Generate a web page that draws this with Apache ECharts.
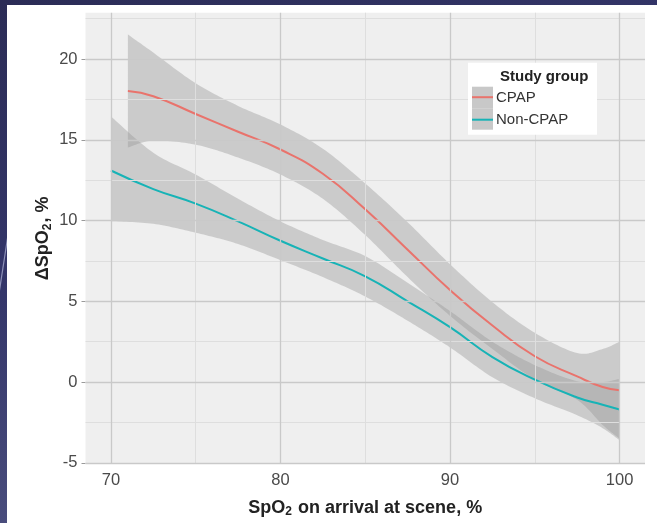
<!DOCTYPE html>
<html>
<head>
<meta charset="utf-8">
<script src="https://cdn.jsdelivr.net/npm/echarts@6/dist/echarts.min.js"></script>
<style>
  html, body { margin: 0; padding: 0; background: #2c2e58; }
  #chart { width: 657px; height: 523px; }
</style>
</head>
<body>
<div id="chart"></div>
<script>
// Axis ticks and grid positions
const xTicks = [70, 80, 90, 100];
const xMinor = [75, 85, 95];
const yTicks = [-5, 0, 5, 10, 15, 20];
const yMinor = [-2.5, 2.5, 7.5, 12.5, 17.5, 22.5];

// CPAP group: loess fit with 95% confidence band
const cpapX     = [71, 72.5, 75, 77.5, 80, 82.5, 85, 87.5, 90, 92.5, 95, 97.5, 99, 100];
const cpapFit   = [18.02, 17.7, 16.6, 15.5, 14.4, 12.9, 10.7, 8.2, 5.7, 3.5, 1.6, 0.35, -0.3, -0.5];
const cpapUpper = [21.52, 20.4, 18.5, 17.1, 15.95, 14.45, 12.3, 9.9, 7.3, 4.95, 3.05, 1.8, 2.05, 2.5];
const cpapLower = [14.52, 14.95, 14.7, 13.9, 12.85, 11.35, 9.1, 6.5, 4.1, 2.05, 0.15, -1.1, -2.65, -3.5];

// Non-CPAP group
const nonX     = [70, 72.5, 75, 77.5, 80, 82.5, 85, 87.5, 90, 92.5, 95, 97.5, 99, 100];
const nonFit   = [13.1, 11.95, 11.05, 9.95, 8.75, 7.65, 6.55, 5.0, 3.4, 1.55, 0.15, -0.95, -1.4, -1.7];
const nonUpper = [16.45, 14.2, 12.85, 11.35, 9.95, 8.8, 7.8, 6.15, 4.4, 2.5, 1.05, 0.05, 0.0, 0.2];
const nonLower = [9.97, 9.8, 9.25, 8.55, 7.55, 6.5, 5.3, 3.8, 2.15, 0.3, -1.0, -2.05, -2.85, -3.6];

const groups = ['CPAP', 'Non-CPAP'];
const lineColors = ['#e9736c', '#17b3b6'];

const pairs = (xs, ys) => xs.map((x, i) => [x, ys[i]]);

const bandFill = 'rgba(150,150,150,0.40)';
const font = '"Liberation Sans", Arial, sans-serif';

// Catmull-Rom spline through pixel points, so band edges are drawn as smooth curves
function spline(pts, steps) {
  const out = [];
  const n = pts.length;
  for (let i = 0; i < n - 1; i++) {
    const p0 = pts[Math.max(i - 1, 0)], p1 = pts[i], p2 = pts[i + 1], p3 = pts[Math.min(i + 2, n - 1)];
    for (let s = 0; s < steps; s++) {
      const t = s / steps, t2 = t * t, t3 = t2 * t;
      const f = k => 0.5 * (2 * p1[k] + (-p0[k] + p2[k]) * t +
        (2 * p0[k] - 5 * p1[k] + 4 * p2[k] - p3[k]) * t2 +
        (-p0[k] + 3 * p1[k] - 3 * p2[k] + p3[k]) * t3);
      out.push([f(0), f(1)]);
    }
  }
  out.push(pts[n - 1]);
  return out;
}

// Confidence ribbon as a custom polygon in axis coordinates
function bandSeries(name, xs, lo, hi) {
  return {
    type: 'custom', name: name, z: 2, silent: true,
    data: xs.map((x, i) => [x, lo[i], hi[i]]),
    encode: { x: 0, y: [1, 2] },
    renderItem(params, api) {
      if (params.dataIndex !== 0) return null;
      const up = xs.map((x, i) => api.coord([x, hi[i]]));
      const dn = xs.map((x, i) => api.coord([x, lo[i]]));
      const pts = spline(up, 16).concat(spline(dn, 16).reverse());
      return { type: 'polygon', shape: { points: pts }, style: { fill: bandFill } };
    }
  };
}

const gridLines = [].concat(
  xMinor.map(v => ({ xAxis: v, lineStyle: { color: '#dedede', width: 1, type: 'solid' } })),
  yMinor.map(v => ({ yAxis: v, lineStyle: { color: '#dedede', width: 1, type: 'solid' } })),
  xTicks.map(v => ({ xAxis: v, lineStyle: { color: '#c9c9c9', width: 1.3, type: 'solid' } })),
  yTicks.map(v => ({ yAxis: v, lineStyle: { color: '#c9c9c9', width: 1.3, type: 'solid' } }))
);

const titleRich = {
  a: { fontSize: 18, fontWeight: 'bold', color: '#222', fontFamily: font, lineHeight: 22 },
  s: { fontSize: 12, fontWeight: 'bold', color: '#222', fontFamily: font, lineHeight: 22, padding: [8, 1, 0, 0] }
};

const chart = echarts.init(document.getElementById('chart'));

const option = {
  animation: false,
  backgroundColor: new echarts.graphic.LinearGradient(0, 0, 0.3, 1, [
    { offset: 0, color: '#2b2c56' },
    { offset: 0.5, color: '#34366a' },
    { offset: 1, color: '#505482' }
  ]),
  textStyle: { fontFamily: font },
  grid: {
    left: 85.5, right: 12, top: 12.7, bottom: 57,
    show: true, backgroundColor: '#efefef', borderWidth: 0
  },
  xAxis: {
    type: 'value', min: 68.5, max: 101.5,
    axisLine: { show: false },
    splitLine: { show: false },
    axisTick: { show: true, customValues: xTicks, length: 4, lineStyle: { color: '#9a9a9a' } },
    axisLabel: { customValues: xTicks, margin: 8, fontSize: 16.5, color: '#4a4a4a', fontFamily: font },
    name: '{a|SpO}{s|2}{a| on arrival at scene, %}',
    nameLocation: 'middle', nameGap: 33,
    nameTextStyle: { rich: titleRich }
  },
  yAxis: {
    type: 'value', min: -5.07, max: 22.87,
    axisLine: { show: false },
    splitLine: { show: false },
    axisTick: { show: true, customValues: yTicks, length: 4, lineStyle: { color: '#9a9a9a' } },
    axisLabel: { customValues: yTicks, margin: 8, fontSize: 16.5, color: '#4a4a4a', fontFamily: font },
    name: '{a|ΔSpO}{s|2}{a|, %}',
    nameLocation: 'middle', nameGap: 31, nameRotate: 90, nameMoveOverlap: false,
    nameTextStyle: { rich: titleRich }
  },
  series: [
    {
      type: 'line', name: 'grid', data: [], z: 1, silent: true,
      markLine: {
        silent: true, symbol: 'none', label: { show: false },
        animation: false, data: gridLines
      }
    },
    bandSeries('cpap-band', cpapX, cpapLower, cpapUpper),
    bandSeries('non-band', nonX, nonLower, nonUpper),
    {
      type: 'line', name: groups[0], data: pairs(cpapX, cpapFit), smooth: true,
      symbol: 'none', z: 4, lineStyle: { color: lineColors[0], width: 2 }
    },
    {
      type: 'line', name: groups[1], data: pairs(nonX, nonFit), smooth: true,
      symbol: 'none', z: 4, lineStyle: { color: lineColors[1], width: 2 }
    }
  ],
  graphic: [
    // white slide panel behind the plot
    { type: 'rect', z: -10, silent: true, shape: { x: 7, y: 5, width: 660, height: 530 }, style: { fill: '#ffffff' } },
    { type: 'line', z: -11, silent: true, shape: { x1: -2, y1: 300, x2: 10, y2: 222 }, style: { stroke: '#8e91b8', lineWidth: 1.2 } },
    // legend
    {
      type: 'group', left: 468, top: 62.7, z: 10,
      children: [
        { type: 'rect', z: 10, shape: { x: 0, y: 0, width: 129, height: 72 }, style: { fill: '#ffffff' } },
        { type: 'text', z: 11, x: 32, y: 14, style: { text: 'Study group', font: 'bold 15px ' + font, fill: '#222', verticalAlign: 'middle' } },
        { type: 'rect', z: 11, shape: { x: 4, y: 24, width: 21, height: 21.5 }, style: { fill: '#c8c8c8' } },
        { type: 'rect', z: 11, shape: { x: 4, y: 45.5, width: 21, height: 21.5 }, style: { fill: '#c8c8c8' } },
        { type: 'line', z: 12, shape: { x1: 4, y1: 34.5, x2: 25, y2: 34.5 }, style: { stroke: lineColors[0], lineWidth: 2 } },
        { type: 'line', z: 12, shape: { x1: 4, y1: 57, x2: 25, y2: 57 }, style: { stroke: lineColors[1], lineWidth: 2 } },
        { type: 'text', z: 11, x: 28, y: 35, style: { text: groups[0], font: '15px ' + font, fill: '#333', verticalAlign: 'middle' } },
        { type: 'text', z: 11, x: 28, y: 57.5, style: { text: groups[1], font: '15px ' + font, fill: '#333', verticalAlign: 'middle' } }
      ]
    }
  ]
};

chart.setOption(option);
</script>
</body>
</html>
